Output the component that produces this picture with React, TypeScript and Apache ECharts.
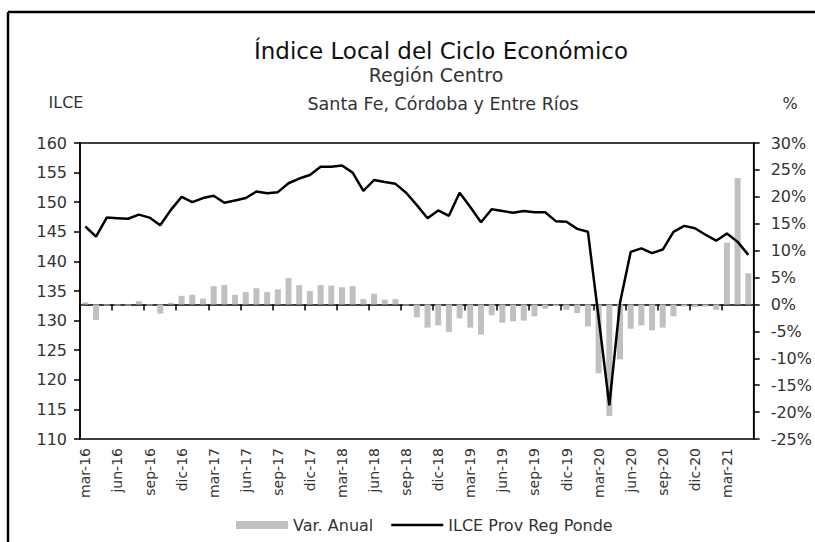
import React, { useEffect, useRef } from "react";
import * as echarts from "echarts";

const categories = [
  "mar-16","abr-16","may-16","jun-16","jul-16","ago-16","sep-16","oct-16","nov-16","dic-16",
  "ene-17","feb-17","mar-17","abr-17","may-17","jun-17","jul-17","ago-17","sep-17","oct-17","nov-17","dic-17",
  "ene-18","feb-18","mar-18","abr-18","may-18","jun-18","jul-18","ago-18","sep-18","oct-18","nov-18","dic-18",
  "ene-19","feb-19","mar-19","abr-19","may-19","jun-19","jul-19","ago-19","sep-19","oct-19","nov-19","dic-19",
  "ene-20","feb-20","mar-20","abr-20","may-20","jun-20","jul-20","ago-20","sep-20","oct-20","nov-20","dic-20",
  "ene-21","feb-21","mar-21","abr-21","may-21"
];

const ilce = [
  145.9, 144.2, 147.4, 147.3, 147.2, 147.9, 147.4, 146.1, 148.7, 150.9,
  150.0, 150.7, 151.1, 149.9, 150.3, 150.7, 151.8, 151.5, 151.7, 153.2,
  154.0, 154.6, 156.0, 156.0, 156.2, 155.0, 151.9, 153.75, 153.4, 153.1,
  151.6, 149.5, 147.3, 148.6, 147.7, 151.6, 149.2, 146.6, 148.8, 148.5,
  148.2, 148.5, 148.3, 148.3, 146.8, 146.7, 145.5, 145.0, 130.5, 115.7,
  133.0, 141.6, 142.2, 141.4, 142.0, 145.0, 146.0, 145.6, 144.5, 143.5,
  144.7, 143.3, 141.1
];

const varAnual = [
  0.4, -2.9, -0.2, -0.2, -0.2, 0.6, -0.2, -1.7, 0.3, 1.6,
  1.8, 1.1, 3.4, 3.6, 1.8, 2.3, 3.0, 2.3, 2.8, 4.9,
  3.6, 2.5, 3.6, 3.5, 3.2, 3.4, 1.0, 2.0, 0.9, 1.0,
  -0.2, -2.4, -4.3, -3.9, -5.1, -2.6, -4.3, -5.6, -2.0, -3.4,
  -3.1, -3.0, -2.2, -0.8, -0.3, -1.0, -1.6, -4.1, -12.8, -20.7,
  -10.2, -4.5, -3.9, -4.8, -4.3, -2.2, -0.4, -0.5, -0.4, -1.0,
  11.5, 23.5, 5.8
];

const FONT = "DejaVu Sans";
const TXT = "#333333";

export default function App() {
  const ref = useRef<HTMLDivElement>(null);
  useEffect(() => {
    if (!ref.current) return;
    const chart = echarts.init(ref.current, null, { renderer: "svg" });
    chart.setOption({
      animation: false,
      backgroundColor: "#ffffff",
      textStyle: { fontFamily: FONT },
      grid: {
        left: 80, right: 56, top: 143, bottom: 103,
        show: true, borderColor: "#000", borderWidth: 1.5, backgroundColor: "transparent",
      },
      graphic: [
        { type: "line", shape: { x1: 8, y1: 12, x2: 815, y2: 12 }, style: { stroke: "#000", lineWidth: 2.5 } },
        { type: "line", shape: { x1: 8, y1: 12, x2: 8, y2: 542 }, style: { stroke: "#000", lineWidth: 2.5 } },
        { type: "text", x: 441, y: 51, style: { text: "Índice Local del Ciclo Económico", fontFamily: FONT, fontSize: 23, fill: "#111", textAlign: "center", textVerticalAlign: "middle" } },
        { type: "text", x: 436, y: 75, style: { text: "Región Centro", fontFamily: FONT, fontSize: 19, fill: TXT, textAlign: "center", textVerticalAlign: "middle" } },
        { type: "text", x: 443, y: 104, style: { text: "Santa Fe, Córdoba y Entre Ríos", fontFamily: FONT, fontSize: 17.5, fill: TXT, textAlign: "center", textVerticalAlign: "middle" } },
        { type: "text", x: 66, y: 102, style: { text: "ILCE", fontFamily: FONT, fontSize: 16, fill: TXT, textAlign: "center", textVerticalAlign: "middle" } },
        { type: "text", x: 790, y: 103, style: { text: "%", fontFamily: FONT, fontSize: 16, fill: TXT, textAlign: "center", textVerticalAlign: "middle" } },
      ],
      legend: {
        left: 231, top: 512,
        itemWidth: 52, itemHeight: 8, itemGap: 18,
        textStyle: { fontFamily: FONT, fontSize: 16, color: TXT },
        data: [
          { name: "Var. Anual", icon: "rect" },
          { name: "ILCE Prov Reg Ponde", icon: "path://M0 0H52V2.5H0Z", itemStyle: { color: "#000" } },
        ],
      },
      xAxis: {
        type: "category",
        data: categories,
        boundaryGap: true,
        axisLine: { lineStyle: { color: "#000", width: 1.5 } },
        axisTick: { show: true, interval: 2, length: 6, lineStyle: { color: "#000", width: 1.5 } },
        axisLabel: { interval: 2, rotate: 90, fontFamily: FONT, fontSize: 14, color: TXT, margin: 9 },
        splitLine: { show: false },
      },
      yAxis: [
        {
          type: "value", min: 110, max: 160, interval: 5, position: "left",
          axisLine: { show: true, lineStyle: { color: "#000", width: 1.5 } },
          axisTick: { show: true, length: 6, lineStyle: { color: "#000", width: 1.5 } },
          axisLabel: { fontFamily: FONT, fontSize: 16, color: TXT, margin: 13 },
          splitLine: { show: false },
        },
        {
          type: "value", min: -25, max: 30, interval: 5, position: "right",
          axisLine: { show: true, lineStyle: { color: "#000", width: 1.5 } },
          axisTick: { show: true, length: 6, lineStyle: { color: "#000", width: 1.5 } },
          axisLabel: { fontFamily: FONT, fontSize: 16, color: TXT, margin: 17, formatter: (v: number) => v + "%" },
          splitLine: { show: false },
          alignTicks: false,
        },
      ],
      series: [
        {
          name: "Var. Anual", type: "bar", yAxisIndex: 1, data: varAnual,
          barWidth: 6, itemStyle: { color: "#c0c0c0" }, z: 2,
        },
        {
          name: "ILCE Prov Reg Ponde", type: "line", yAxisIndex: 0, data: ilce,
          symbol: "none", lineStyle: { color: "#000", width: 2.5 }, itemStyle: { color: "#000" }, z: 3,
        },
      ],
    });
    return () => chart.dispose();
  }, []);
  return <div ref={ref} style={{ position: "fixed", left: 0, top: 0, width: 815, height: 542 }} />;
}
